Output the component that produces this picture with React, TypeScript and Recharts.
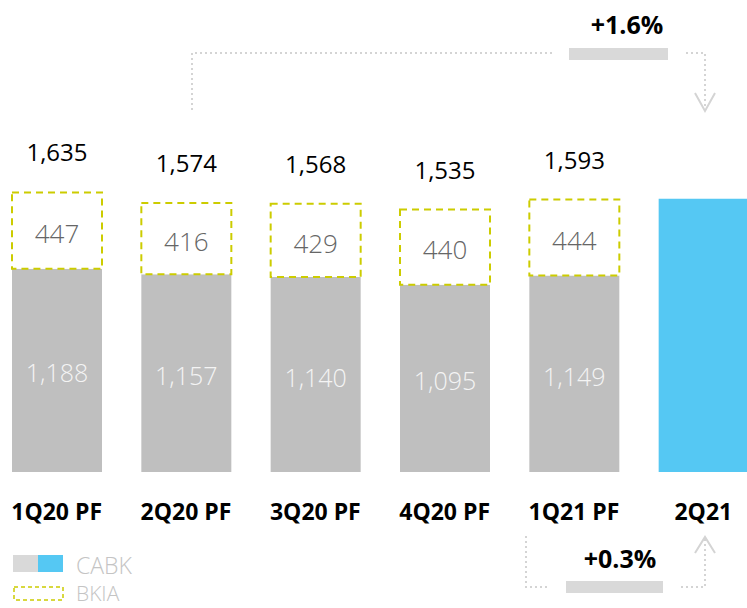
import { BarChart, Bar, XAxis, YAxis, Cell, LabelList } from "recharts";

const quarters = ["1Q20 PF", "2Q20 PF", "3Q20 PF", "4Q20 PF", "1Q21 PF", "2Q21"];
const cabk = [1188, 1157, 1140, 1095, 1149, 1598];
const bkia = [447, 416, 429, 440, 444, 0];
const totals = [1635, 1574, 1568, 1535, 1593, 1598];
const yTicks = [0, 2000];

const data = quarters.map((q, i) => ({ q, cabk: cabk[i], bkia: bkia[i], total: totals[i] }));

const FONT = "'Open Sans', 'Noto Sans', sans-serif";
const GREY = "#bfbfbf";
const BLUE = "#55c8f3";
const YELLOW = "#cccc00";
const DOT = "#d4d4d4";

const fmt = (v: number) => v.toLocaleString("en-US");

function CategoryTick(props: any) {
  const { x, y, payload } = props;
  return (
    <text x={x} y={y + 48} textAnchor="middle" fontFamily={FONT} fontWeight={700} fontSize={23} fill="#000">
      {payload.value}
    </text>
  );
}

function InsideLabel(color: string, size: number, skip: (i: number) => boolean) {
  return (props: any) => {
    const { x, y, width, height, value, index } = props;
    if (skip(index) || !value) return null;
    return (
      <text
        x={x + width / 2}
        y={y + height / 2 + 3 + size * 0.36}
        textAnchor="middle"
        fontFamily={FONT}
        fontWeight={300}
        fontSize={size}
        fill={color}
      >
        {fmt(value)}
      </text>
    );
  };
}

function TotalLabel(props: any) {
  const { x, y, width, value, index } = props;
  const last = index === quarters.length - 1;
  return (
    <text
      x={x + width / 2}
      y={y - 31}
      textAnchor="middle"
      fontFamily={FONT}
      fontWeight={last ? 700 : 400}
      fontSize={last ? 26 : 24}
      fill="#000"
    >
      {fmt(value)}
    </text>
  );
}

export default function App() {
  return (
    <div style={{ position: "absolute", left: 0, top: 0, width: 747, height: 608, overflow: "hidden", background: "#fff" }}>
      <div style={{ position: "absolute", left: -8, top: 0 }}>
        <BarChart width={776} height={608} data={data} margin={{ top: 130, right: 0, bottom: 96, left: 0 }} barSize={90}>
          <XAxis
            dataKey="q"
            axisLine={false}
            tickLine={false}
            tickSize={0}
            tickMargin={0}
            height={40}
            interval={0}
            tick={<CategoryTick />}
          />
          <YAxis hide domain={[0, 2000]} ticks={yTicks} />
          <Bar dataKey="cabk" stackId="a" isAnimationActive={false}>
            {data.map((d, i) => (
              <Cell key={d.q} fill={i === data.length - 1 ? BLUE : GREY} />
            ))}
            <LabelList dataKey="cabk" content={InsideLabel("#f4f4f4", 25, (i) => i === data.length - 1)} />
          </Bar>
          <Bar
            dataKey="bkia"
            stackId="a"
            fill="#ffffff"
            stroke={YELLOW}
            strokeWidth={2}
            strokeDasharray="7 5"
            isAnimationActive={false}
          >
            <LabelList dataKey="bkia" content={InsideLabel("#666666", 26, () => false)} />
            <LabelList dataKey="total" content={TotalLabel} />
          </Bar>
        </BarChart>
      </div>

      <svg width={747} height={608} style={{ position: "absolute", left: 0, top: 0, pointerEvents: "none" }}>
        {/* growth bracket, 1Q20 PF to 2Q21 */}
        <g fill="none" stroke={DOT} strokeWidth={2} strokeDasharray="2 3">
          <polyline points="192,110 192,53 552,53" />
          <polyline points="686,53 705,53 705,110" />
        </g>
        <polyline points="695,93 705,111 715,93" fill="none" stroke={DOT} strokeWidth={2} />
        <rect x={569} y={48} width={99} height={12} fill="#d9d9d9" />
        <text x={627} y={34} textAnchor="middle" fontFamily={FONT} fontWeight={700} fontSize={25} fill="#000">
          +1.6%
        </text>

        {/* growth bracket, 1Q21 PF to 2Q21 */}
        <g fill="none" stroke={DOT} strokeWidth={2} strokeDasharray="2 3">
          <polyline points="526,536 526,587 548,587" />
          <polyline points="681,587 705,587 705,538" />
        </g>
        <polyline points="695,553 705,537 715,553" fill="none" stroke={DOT} strokeWidth={2} />
        <rect x={566} y={581} width={97} height={12} fill="#d9d9d9" />
        <text x={620} y={568} textAnchor="middle" fontFamily={FONT} fontWeight={700} fontSize={25} fill="#000">
          +0.3%
        </text>

        {/* legend */}
        <rect x={13} y={555} width={25} height={17} fill="#d9d9d9" />
        <rect x={38} y={555} width={25} height={17} fill={BLUE} />
        <text x={76} y={574} fontFamily={FONT} fontWeight={300} fontSize={23} fill="#c4c4c4">
          CABK
        </text>
        <rect x={14} y={587} width={49} height={13} fill="none" stroke={YELLOW} strokeWidth={1.5} strokeDasharray="4 3" />
        <text x={76} y={601} fontFamily={FONT} fontWeight={300} fontSize={21} fill="#c4c4c4">
          BKIA
        </text>
      </svg>
    </div>
  );
}
